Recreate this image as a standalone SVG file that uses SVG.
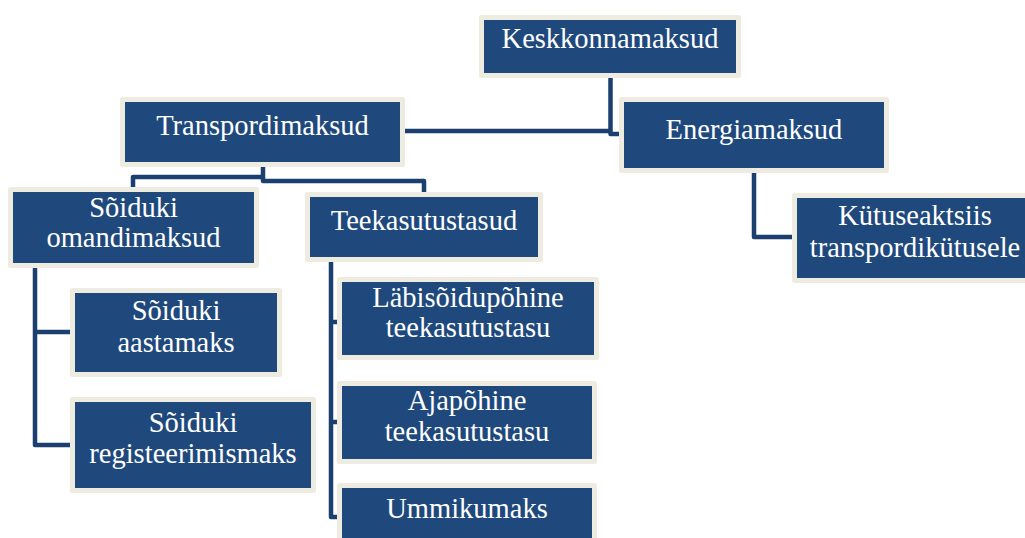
<svg xmlns="http://www.w3.org/2000/svg" width="1025" height="538" viewBox="0 0 1025 538">
<style>
.box{fill:#1F497D;stroke:#EEECE1;stroke-width:5;stroke-linejoin:round}
.t{font-size:28.5px;fill:#FFFFFF;text-anchor:middle}
.c{fill:none;stroke:#1B3F6E;stroke-width:4.5;stroke-linejoin:round;stroke-linecap:butt}
</style>
<rect width="1025" height="538" fill="#FFFFFF"/>
<g id="connectors">
<path class="c" d="M610.5,78 V134 H619"/>
<path class="c" d="M405,131 H610"/>
<path class="c" d="M263,167 V177 H133 V187"/>
<path class="c" d="M263,177 V181 H424 V192"/>
<path class="c" d="M754,173 V237 H792"/>
<path class="c" d="M35,268 V445 H70"/>
<path class="c" d="M35,332 H70"/>
<path class="c" d="M331,262 V517 H337"/>
<path class="c" d="M331,322 H337"/>
<path class="c" d="M331,422 H337"/>
</g>
<g font-family="'Liberation Serif', 'Times New Roman', Times, serif">
<g id="keskkonnamaksud">
<rect class="box" x="481.5" y="17.5" width="257" height="58"/>
<text class="t" x="610" y="48">Keskkonnamaksud</text>
</g>
<g id="transpordimaksud">
<rect class="box" x="122.5" y="99.5" width="280" height="65"/>
<text class="t" x="262.5" y="135">Transpordimaksud</text>
</g>
<g id="energiamaksud">
<rect class="box" x="621.5" y="99.5" width="265" height="71"/>
<text class="t" x="754" y="139">Energiamaksud</text>
</g>
<g id="kytuseaktsiis">
<rect class="box" x="794.5" y="195.5" width="241" height="85"/>
<text class="t" x="915" y="225">Kütuseaktsiis</text>
<text class="t" x="915" y="257">transpordikütusele</text>
</g>
<g id="soiduki-omandimaksud">
<rect class="box" x="10.5" y="189.5" width="246" height="76"/>
<text class="t" x="133.5" y="217">Sõiduki</text>
<text class="t" x="133.5" y="247">omandimaksud</text>
</g>
<g id="teekasutustasud">
<rect class="box" x="307.5" y="194.5" width="233" height="65"/>
<text class="t" x="424" y="230">Teekasutustasud</text>
</g>
<g id="soiduki-aastamaks">
<rect class="box" x="72.5" y="290.5" width="207" height="84"/>
<text class="t" x="176" y="320">Sõiduki</text>
<text class="t" x="176" y="352">aastamaks</text>
</g>
<g id="soiduki-registeerimismaks">
<rect class="box" x="72.5" y="399.5" width="241" height="91"/>
<text class="t" x="193" y="432">Sõiduki</text>
<text class="t" x="193" y="463">registeerimismaks</text>
</g>
<g id="labisoidupohine">
<rect class="box" x="339.5" y="279.5" width="257" height="78"/>
<text class="t" x="468" y="307">Läbisõidupõhine</text>
<text class="t" x="468" y="337">teekasutustasu</text>
</g>
<g id="ajapohine">
<rect class="box" x="339.5" y="383.5" width="255" height="78"/>
<text class="t" x="467" y="410">Ajapõhine</text>
<text class="t" x="467" y="441">teekasutustasu</text>
</g>
<g id="ummikumaks">
<rect class="box" x="339.5" y="485.5" width="255" height="70"/>
<text class="t" x="467" y="518">Ummikumaks</text>
</g>
</g>
</svg>
